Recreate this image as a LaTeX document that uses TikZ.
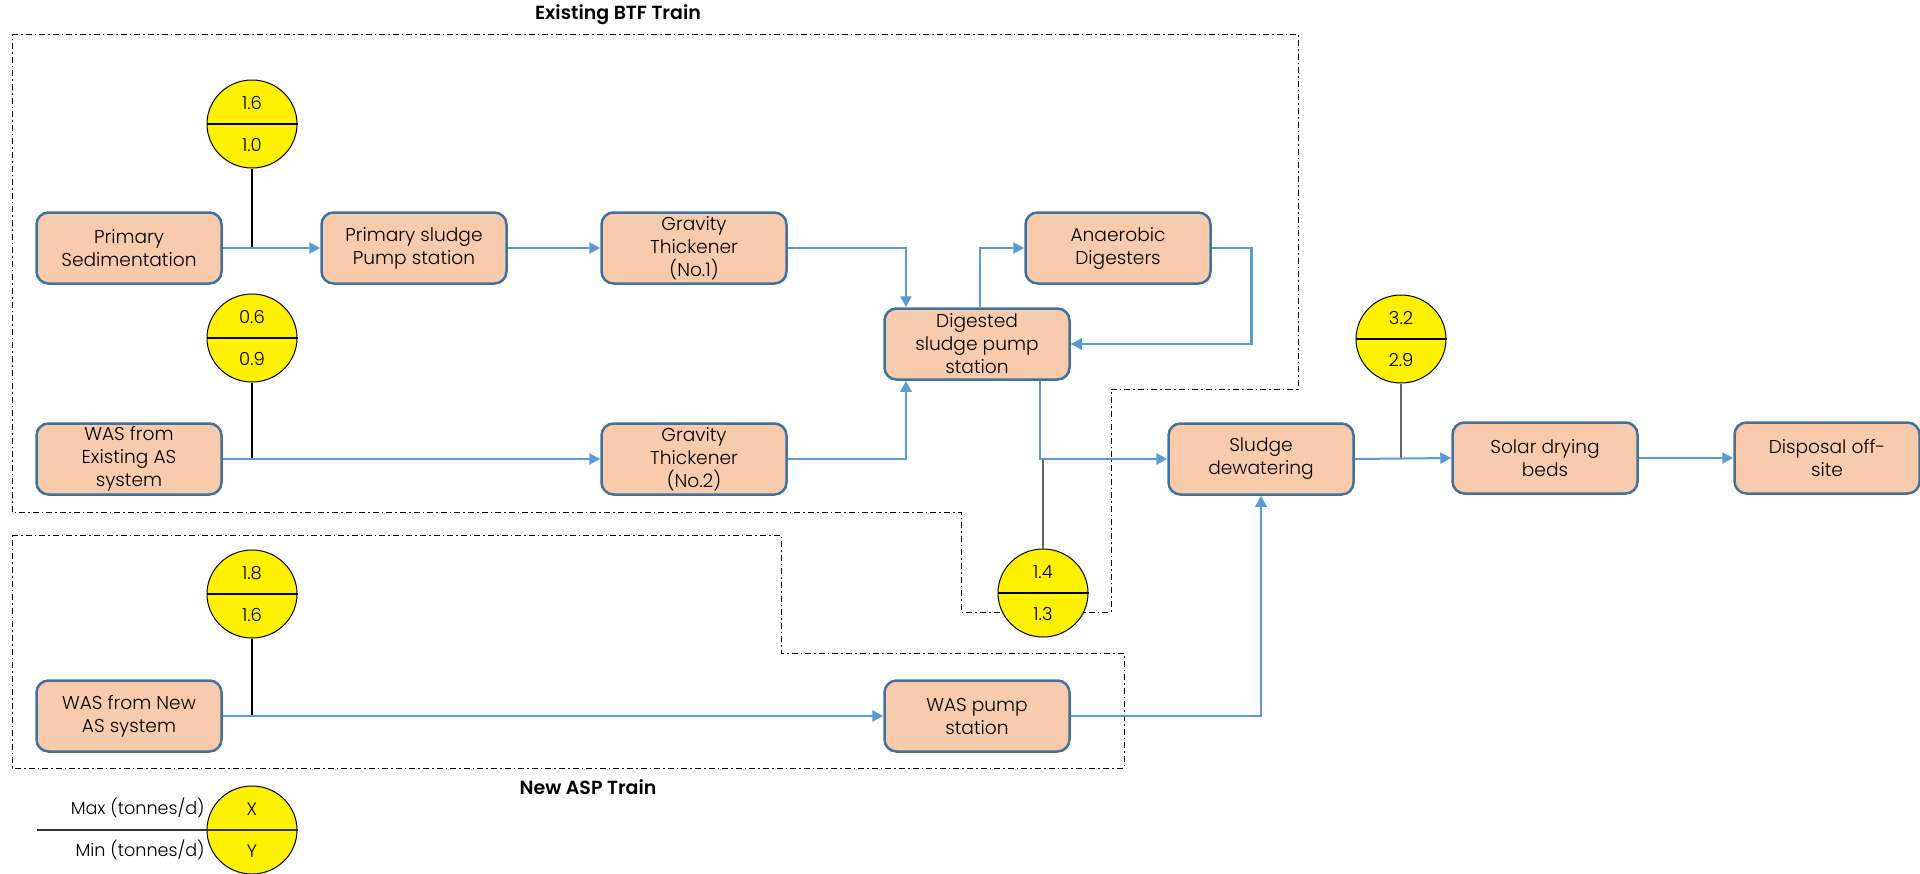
\documentclass[tikz,border=0pt]{standalone}
\usepackage{fontspec}
\setmainfont{Poppins}[UprightFont=* Light, BoldFont=* SemiBold]
\usetikzlibrary{arrows.meta,shapes.geometric,calc}
\definecolor{boxfill}{HTML}{F8CBAD}
\definecolor{boxline}{HTML}{41719C}
\definecolor{flow}{HTML}{5B9BD5}
\newcommand\meterset[4]{%
  \node[meter] (#1) at (#2) {};
  \draw[line width=0.8pt] (#1.west) -- (#1.east);
  \node[meterval] (#1t) at ($(#1)+(0,-21)$) {#3};
  \node[meterval] (#1b) at ($(#1)+(0,21)$) {#4};}
\begin{document}
\begin{tikzpicture}[x=0.5pt,y=-0.5pt,
  unit/.style={draw=boxline, fill=boxfill, line width=1.25pt, rounded corners=6pt,
    minimum width=92.5pt, minimum height=35.5pt, align=center,
    font=\fontsize{9.3}{11.5}\selectfont, inner sep=1pt},
  meter/.style={ellipse, draw=black, fill=yellow, line width=0.5pt,
    minimum width=45pt, minimum height=44pt, inner sep=0pt},
  meterval/.style={font=\fontsize{9}{10}\selectfont, inner sep=0pt},
  flowline/.style={draw=flow, line width=1pt, -{Triangle[length=5.5pt,width=5.5pt]}},
  thickflow/.style={flowline, line width=1.4pt},
  tap/.style={draw=black, line width=0.6pt},
  graytap/.style={draw=black!60, line width=0.6pt},
  zone/.style={draw=black, line width=0.5pt, dash pattern=on 3pt off 1.5pt on 0.8pt off 1.5pt},
  title/.style={font=\bfseries\fontsize{9.5}{11}\selectfont},
  legtext/.style={font=\fontsize{8.8}{10}\selectfont, anchor=east, inner sep=0pt}
]
\useasboundingbox (0,0) rectangle (1920,873);

% zones
\draw[zone] (12,34) -- (1298,34) -- (1298,389) -- (1111,389) -- (1111,612)
  -- (961,612) -- (961,512) -- (12,512) -- cycle;
\draw[zone] (12,535) -- (781,535) -- (781,653) -- (1124,653) -- (1124,768)
  -- (12,768) -- cycle;
\node[title] (t1) at (618,15) {Existing BTF Train};
\node[title] (t2) at (588,787) {New ASP Train};

% units
\node[unit] (ps) at (129,248) {Primary\\Sedimentation};
\node[unit] (psp) at (414,248) {Primary sludge\\Pump station};
\node[unit] (gt1) at (694,248) {Gravity\\Thickener\\(No.1)};
\node[unit] (ad) at (1118,248) {Anaerobic\\Digesters};
\node[unit] (dsp) at (977,344) {Digested\\sludge pump\\station};
\node[unit] (wase) at (129,459) {WAS from\\Existing AS\\system};
\node[unit] (gt2) at (694,459) {Gravity\\Thickener\\(No.2)};
\node[unit] (sd) at (1261,459) {Sludge\\dewatering};
\node[unit] (sdb) at (1545,458) {Solar drying\\beds};
\node[unit] (do) at (1827,458) {Disposal off-\\site};
\node[unit] (wasn) at (129,716) {WAS from New\\AS system};
\node[unit] (wasp) at (977,716) {WAS pump\\station};

% meters
\meterset{m1}{252,124}{1.6}{1.0}
\meterset{m2}{252,338}{0.6}{0.9}
\meterset{m3}{252,594}{1.8}{1.6}
\meterset{m4}{1043,593}{1.4}{1.3}
\meterset{m5}{1401,339}{3.2}{2.9}

% taps
\draw[tap] (m1.south) -- (m1.south |- ps.east);
\draw[tap] (m2.south) -- (m2.south |- wase.east);
\draw[tap] (m3.south) -- (m3.south |- wasn.east);
\draw[graytap] (m4.north) -- (m4.north |- sd.west);
\draw[graytap] (m5.south) -- (m5.south |- sd.east);

% flows
\draw[flowline] (ps.east) -- (psp.west);
\draw[flowline] (psp.east) -- (gt1.west);
\draw[flowline] (gt1.east) -| ([xshift=-35.5pt]dsp.north);
\draw[flowline] ([xshift=1.5pt]dsp.north) |- (ad.west);
\draw[thickflow] (ad.east) -- ++(40,0) |- (dsp.east);
\draw[flowline] (wase.east) -- (gt2.west);
\draw[thickflow] (gt2.east) -| ([xshift=-35.5pt]dsp.south);
\draw[thickflow] ([xshift=31.5pt]dsp.south) |- (sd.west);
\draw[thickflow] (wasn.east) -- (wasp.west);
\draw[thickflow] (wasp.east) -| (sd.south);
\draw[flowline] (sd.east) -- (sdb.west);
\draw[flowline] (sdb.east) -- (do.west);

% legend
\meterset{leg}{252,830}{X}{Y}
\coordinate (legstart) at (37,830);
\draw[line width=1.1pt, draw=black!80] (legstart) -- (leg.east);
\node[legtext] (maxl) at (205,808) {Max (tonnes/d)};
\node[legtext] (minl) at (205,850) {Min (tonnes/d)};
\end{tikzpicture}
\end{document}
